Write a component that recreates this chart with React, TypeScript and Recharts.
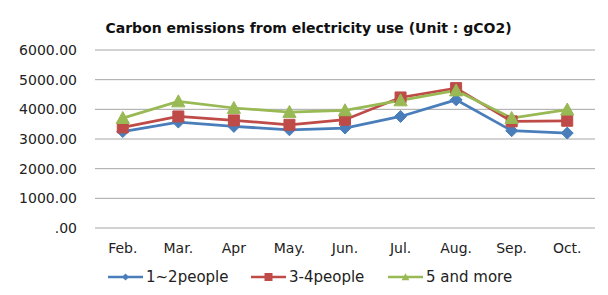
import React from "react";
import { LineChart, Line, XAxis, YAxis, CartesianGrid, Legend } from "recharts";

const months = ["Feb.", "Mar.", "Apr", "May.", "Jun.", "Jul.", "Aug.", "Sep.", "Oct."];
const people12 = [3250, 3570, 3425, 3310, 3370, 3760, 4320, 3280, 3200];
const people34 = [3390, 3760, 3627, 3480, 3650, 4400, 4715, 3595, 3615];
const people5 = [3705, 4265, 4045, 3910, 3965, 4300, 4635, 3705, 3990];
const yTicks = [0, 1000, 2000, 3000, 4000, 5000, 6000];
const seriesNames = ["1~2people", "3-4people", "5 and more"];
const colors = ["#4a7ebb", "#be4b48", "#98b954"];

const data = months.map((m, i) => ({
  month: m,
  a: people12[i],
  b: people34[i],
  c: people5[i],
}));

const FONT = "'DejaVu Sans', sans-serif";

function markerPath(kind: number, cx: number, cy: number, s: number) {
  if (kind === 0) {
    return `M${cx},${cy - s} L${cx + s},${cy} L${cx},${cy + s} L${cx - s},${cy} Z`;
  }
  if (kind === 1) {
    return `M${cx - s},${cy - s} L${cx + s},${cy - s} L${cx + s},${cy + s} L${cx - s},${cy + s} Z`;
  }
  return `M${cx},${cy - s * 1.1} L${cx + s * 1.1},${cy + s * 0.9} L${cx - s * 1.1},${cy + s * 0.9} Z`;
}

const makeDot = (kind: number, size: number) => (props: any) => {
  const { cx, cy, index } = props;
  if (cx == null || cy == null) return <g key={index} />;
  return (
    <path
      key={`d${kind}-${index}`}
      d={markerPath(kind, cx, cy, size)}
      fill={colors[kind]}
      stroke={colors[kind]}
      strokeWidth={1}
    />
  );
};

const LegendContent = () => {
  const lefts = [108, 251, 388];
  return (
    <div style={{ position: "relative", width: 608, height: 20 }}>
      {seriesNames.map((n, i) => (
        <div
          key={n}
          style={{
            position: "absolute",
            left: lefts[i],
            top: 0,
            display: "flex",
            alignItems: "center",
            height: 20,
          }}
        >
          <svg width={36} height={14}>
            <line x1={0} y1={7} x2={35} y2={7} stroke={colors[i]} strokeWidth={2.5} />
            <path d={markerPath(i, 17.5, 7, i === 1 ? 4 : 3.5)} fill={colors[i]} />
          </svg>
          <span
            style={{
              marginLeft: 2,
              fontFamily: FONT,
              fontSize: 15,
              color: "#222",
              whiteSpace: "nowrap",
            }}
          >
            {n}
          </span>
        </div>
      ))}
    </div>
  );
};

export default function App() {
  return (
    <div
      style={{
        position: "relative",
        width: 608,
        height: 295,
        margin: -8,
        background: "#ffffff",
        overflow: "hidden",
      }}
    >
      <div
        style={{
          position: "absolute",
          left: 5,
          top: 7,
          width: 640,
          height: 320,
          border: "1.5px solid #8a8a8a",
          boxSizing: "border-box",
        }}
      />
      <div
        style={{
          position: "absolute",
          left: 0,
          top: 20,
          width: 617,
          textAlign: "center",
          fontFamily: FONT,
          fontWeight: "bold",
          fontSize: 14,
          color: "#111",
          whiteSpace: "nowrap",
        }}
      >
        Carbon emissions from electricity use (Unit : gCO2)
      </div>
      <div style={{ position: "absolute", left: 0, top: 0 }}>
        <LineChart
          width={608}
          height={295}
          data={data}
          margin={{ top: 50, right: 13, left: 0, bottom: 0 }}
        >
          <CartesianGrid vertical={false} stroke="#a6a6a6" strokeWidth={1} />
          <XAxis
            dataKey="month"
            scale="band"
            axisLine={false}
            tickLine={false}
            height={67}
            tickMargin={9}
            interval={0}
            tick={{ fontFamily: FONT, fontSize: 14, fill: "#222" }}
          />
          <YAxis
            width={95}
            domain={[0, 6000]}
            ticks={yTicks}
            axisLine={false}
            tickLine={false}
            tickMargin={12}
            tickFormatter={(v: number) => (v === 0 ? ".00" : v.toFixed(2))}
            tick={{ fontFamily: FONT, fontSize: 14, fill: "#222" }}
          />
          <Legend
            layout="horizontal"
            verticalAlign="middle"
            align="center"
            content={LegendContent}
            wrapperStyle={{ position: "absolute", left: 0, top: 267, width: 608 }}
          />
          <Line
            dataKey="a"
            name={seriesNames[0]}
            stroke={colors[0]}
            strokeWidth={2.75}
            dot={makeDot(0, 6)}
            isAnimationActive={false}
          />
          <Line
            dataKey="b"
            name={seriesNames[1]}
            stroke={colors[1]}
            strokeWidth={2.75}
            dot={makeDot(1, 5.5)}
            isAnimationActive={false}
          />
          <Line
            dataKey="c"
            name={seriesNames[2]}
            stroke={colors[2]}
            strokeWidth={2.75}
            dot={makeDot(2, 6)}
            isAnimationActive={false}
          />
        </LineChart>
      </div>
    </div>
  );
}
